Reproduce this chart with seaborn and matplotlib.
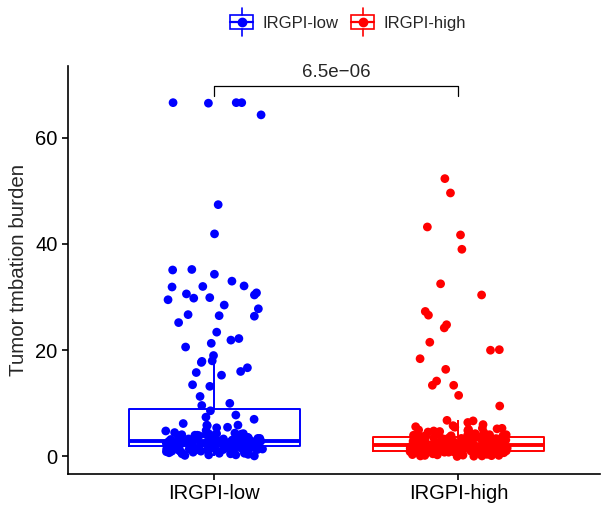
import matplotlib
matplotlib.use("Agg")
import numpy as np
import pandas as pd
import seaborn as sns
import matplotlib.pyplot as plt
from matplotlib.legend_handler import HandlerBase
from matplotlib.patches import Rectangle
from matplotlib.lines import Line2D

# ---------------- data ----------------
groups = ["IRGPI-low", "IRGPI-high"]
group_colors = ["#0000FF", "#FF0000"]

irgpi_low_tmb = [
    # outliers
    66.6, 66.6, 66.5, 66.6, 64.3, 47.4, 41.9, 35.1, 35.2, 34.3, 33.0, 32.1, 32.0,
    31.9, 29.8, 30.4, 30.6, 29.9, 30.8, 29.5, 28.5, 27.8, 26.7, 26.5, 26.4, 25.2,
    23.4, 22.2, 21.9, 21.3, 20.6,
    # upper whisker range
    19.0, 17.9, 18.0, 17.7, 16.7, 16.0, 15.8, 15.3, 13.5, 13.2, 11.3, 10.0, 9.6,
    # upper box
    8.6, 7.8, 7.4, 7.0, 6.2, 5.9, 5.9, 5.8, 5.5, 5.4, 4.9, 4.8, 4.5, 4.4,
    3.0, 3.0, 3.1, 3.1, 3.2, 3.2, 3.3, 3.3, 3.4, 3.4, 3.5, 3.5, 3.6, 3.6, 3.7,
    3.7, 3.8, 3.8, 3.9, 3.9, 4.0, 4.0, 4.1, 4.1, 4.2, 4.2, 4.3, 4.3, 3.5, 4.0,
    # lower box
    1.95, 2.0, 2.0, 2.0, 2.1, 2.1, 2.1, 2.1, 2.2, 2.2, 2.2, 2.2, 2.3, 2.3, 2.3,
    2.3, 2.4, 2.4, 2.4, 2.4, 2.5, 2.5, 2.5, 2.5, 2.6, 2.6, 2.6, 2.6, 2.7, 2.7,
    2.7, 2.7, 2.8, 2.8, 2.8, 2.8, 2.85, 2.85, 2.9, 2.9, 2.9, 2.9, 2.9, 2.9,
    # lower whisker range
    0.1, 0.2, 0.3, 0.3, 0.4, 0.5, 0.5, 0.6, 0.6, 0.7, 0.7, 0.8, 0.8, 0.9, 0.9,
    1.0, 1.0, 1.0, 1.1, 1.1, 1.2, 1.2, 1.2, 1.3, 1.3, 1.3, 1.4, 1.4, 1.4, 1.5,
    1.5, 1.5, 1.6, 1.6, 1.6, 1.7, 1.7, 1.7, 1.8, 1.8, 1.8, 1.85, 1.85, 1.9,
]

irgpi_high_tmb = [
    # outliers
    52.3, 49.6, 43.2, 41.7, 39.0, 32.5, 30.4, 27.3, 26.6, 24.2, 24.8, 21.5, 20.1,
    20.0, 18.4, 16.4, 13.4, 13.4, 14.2, 11.5, 9.5,
    # upper whisker range
    6.8, 6.7, 6.4, 6.0, 5.6, 5.3, 5.3, 5.1, 4.4, 4.3, 3.7, 3.7, 3.8, 3.8, 3.9,
    3.9, 4.0, 4.0, 4.1, 4.1, 4.2, 4.5, 4.6, 4.7, 4.8, 4.9, 5.0, 5.2, 5.5, 5.8,
    3.65, 3.7, 3.75, 4.0,
    # upper box
    2.12, 2.15, 2.2, 2.2, 2.25, 2.3, 2.3, 2.35, 2.4, 2.4, 2.45, 2.5, 2.5, 2.55,
    2.6, 2.6, 2.65, 2.7, 2.7, 2.75, 2.8, 2.8, 2.85, 2.9, 2.9, 2.95, 3.0, 3.0,
    3.05, 3.1, 3.1, 3.15, 3.2, 3.2, 3.25, 3.3, 3.3, 3.35, 3.4, 3.4, 3.45, 3.5,
    3.5, 3.55, 3.6, 2.2, 2.4, 2.6, 2.8, 3.0, 3.2, 3.4, 3.6, 2.5, 3.0,
    # lower box
    1.12, 1.15, 1.2, 1.2, 1.22, 1.25, 1.3, 1.3, 1.32, 1.35, 1.4, 1.4, 1.42, 1.45,
    1.5, 1.5, 1.52, 1.55, 1.6, 1.6, 1.62, 1.65, 1.7, 1.7, 1.72, 1.75, 1.8, 1.8,
    1.82, 1.85, 1.9, 1.9, 1.92, 1.95, 2.0, 2.0, 2.02, 2.05, 2.05, 2.08, 2.08,
    2.1, 2.1, 1.15, 1.25, 1.35, 1.45, 1.55, 1.65, 1.75, 1.85, 1.95, 2.0, 2.05, 2.1,
    # lower whisker range
    0.0, 0.05, 0.1, 0.1, 0.15, 0.2, 0.2, 0.25, 0.3, 0.3, 0.35, 0.4, 0.4, 0.45,
    0.5, 0.5, 0.5, 0.55, 0.6, 0.6, 0.6, 0.65, 0.7, 0.7, 0.7, 0.75, 0.8, 0.8, 0.8,
    0.8, 0.85, 0.85, 0.9, 0.9, 0.9, 0.9, 0.95, 0.95, 0.95, 1.0, 1.0, 1.0, 1.0,
    1.0, 1.02, 1.03, 1.04, 1.05, 1.05, 1.06, 1.07, 1.08, 1.08, 1.09, 1.1,
]

p_label = "6.5e\u221206"
y_ticks = [0, 20, 40, 60]
y_label = "Tumor tmbation burden"

df = pd.DataFrame({
    "group": [groups[0]] * len(irgpi_low_tmb) + [groups[1]] * len(irgpi_high_tmb),
    "tmb": irgpi_low_tmb + irgpi_high_tmb,
})
palette = dict(zip(groups, group_colors))

# ---------------- style ----------------
sns.set_style("ticks")
plt.rcParams["font.family"] = ["Liberation Sans", "DejaVu Sans"]

fig = plt.figure(figsize=(6.02, 5.05), dpi=100)
ax = fig.add_axes([68 / 602, 31 / 505, (600 - 68) / 602, (474 - 66) / 505])

sns.boxplot(data=df, x="group", y="tmb", hue="group", order=groups,
            hue_order=groups, palette=palette, fill=False, width=0.7,
            linewidth=1.4, showfliers=False, whis=1.5, saturation=1,
            medianprops={"linewidth": 2.8}, capprops={"linewidth": 0},
            legend=False, ax=ax)

np.random.seed(7)
sns.stripplot(data=df, x="group", y="tmb", hue="group", order=groups,
              hue_order=groups, palette=palette, jitter=0.2, size=6.3,
              linewidth=0, legend=False, ax=ax, zorder=3)

# significance bracket
y_lo, y_hi = 67.9, 69.8
ax.plot([0, 0, 1, 1], [y_lo, y_hi, y_hi, y_lo], color="black", lw=0.9,
        clip_on=False)
ax.text(0.5, y_hi + 0.8, p_label, ha="center", va="bottom", fontsize=13.5)

ax.set_xlim(-0.6, 1.58)
ax.set_ylim(-3.3, 73.5)
ax.set_yticks(y_ticks)
ax.set_xlabel("")
ax.set_ylabel(y_label, fontsize=14.8, labelpad=5)
for s in ["top", "right"]:
    ax.spines[s].set_visible(False)
for s in ["left", "bottom"]:
    ax.spines[s].set_color("black")
    ax.spines[s].set_linewidth(1.2)
ax.tick_params(direction="out", length=4.5, width=1.2, color="black",
               labelsize=14.5, labelcolor="black", pad=3)


# ---------------- legend with boxplot glyphs ----------------
class BoxHandler(HandlerBase):
    def create_artists(self, legend, orig_handle, xdescent, ydescent, width,
                       height, fontsize, trans):
        c = orig_handle.get_color()
        x0, y0 = -xdescent, -ydescent
        cx, cy = x0 + width / 2, y0 + height / 2
        rect = Rectangle((x0 + width * 0.03, y0 + height * 0.12), width * 0.94,
                         height * 0.76, facecolor="white", edgecolor=c, lw=1.2,
                         transform=trans)
        med = Line2D([x0 + width * 0.03, x0 + width * 0.97], [cy, cy],
                     color=c, lw=1.6, transform=trans)
        w1 = Line2D([cx, cx], [y0 - height * 0.25, y0 + height * 0.12],
                    color=c, lw=1.2, transform=trans)
        w2 = Line2D([cx, cx], [y0 + height * 0.88, y0 + height * 1.25],
                    color=c, lw=1.2, transform=trans)
        dot = Line2D([cx], [cy], marker="o", ms=6, color=c, lw=0,
                     transform=trans)
        return [rect, med, w1, w2, dot]


handles = [Line2D([], [], color=c) for c in group_colors]
fig.legend(handles, groups, handler_map={Line2D: BoxHandler()},
           loc="center", bbox_to_anchor=(348 / 602, 1 - 22 / 505), ncol=2,
           frameon=False, fontsize=12, handlelength=1.45, handleheight=1.3,
           handletextpad=0.55, columnspacing=0.7)

fig.savefig("out.png", dpi=100)
